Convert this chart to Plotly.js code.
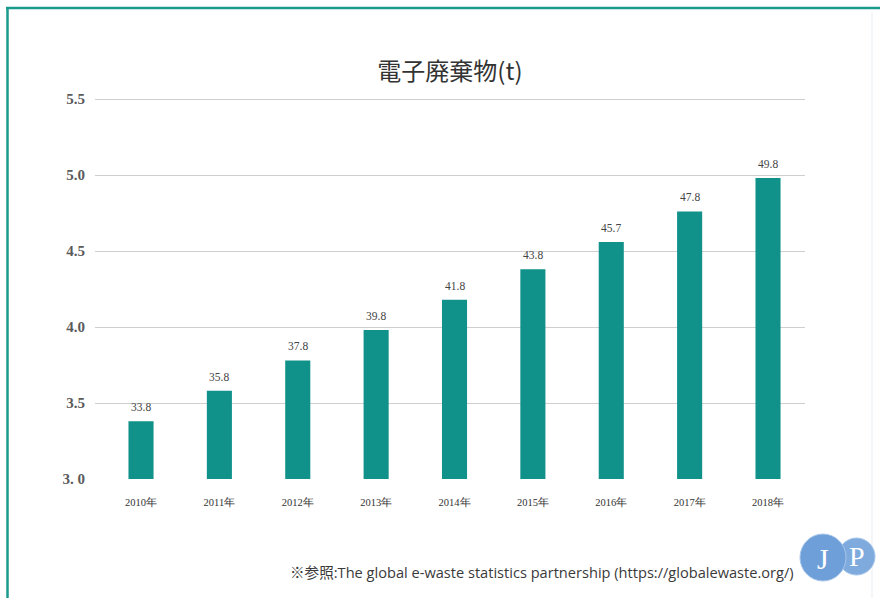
<!DOCTYPE html>
<html>
<head>
<meta charset="utf-8">
<script src="https://cdn.plot.ly/plotly-3.0.1.min.js"></script>
<style>
html,body{margin:0;padding:0;background:#fff;}
#chart{width:880px;height:598px;}
</style>
</head>
<body>
<div id="chart"></div>
<script>
// Data
var years = ['2010年','2011年','2012年','2013年','2014年','2015年','2016年','2017年','2018年'];
var barHeights = [3.38, 3.58, 3.78, 3.98, 4.18, 4.38, 4.56, 4.76, 4.98];
var barLabels = ['33.8','35.8','37.8','39.8','41.8','43.8','45.7','47.8','49.8'];
var yTickVals = [3.0, 3.5, 4.0, 4.5, 5.0, 5.5];
var yTickText = ['3. 0','3.5','4.0','4.5','5.0','5.5'];

var W = 880, H = 598;
var M = {l: 95, r: 75, t: 96, b: 119};
var PW = W - M.l - M.r, PH = H - M.t - M.b;
function px(x){ return (x - M.l) / PW; }
function py(y){ return (H - M.b - y) / PH; }

var teal = '#10918a';

var trace = {
  type: 'bar',
  x: years,
  y: barHeights,
  width: 0.32,
  marker: {color: teal},
  hoverinfo: 'skip'
};

var annotations = years.map(function(yr, i){
  return {
    x: yr, y: barHeights[i], xref: 'x', yref: 'y',
    text: barLabels[i], showarrow: false,
    yanchor: 'bottom', yshift: 6,
    font: {family: 'Liberation Serif, serif', size: 11.5, color: '#444'}
  };
});

annotations.push({
  xref: 'paper', yref: 'paper',
  x: px(796), y: py(572),
  xanchor: 'right', yanchor: 'middle',
  text: '※参照:The global e-waste statistics partnership (https://globalewaste.org/)',
  showarrow: false,
  font: {family: '"Open Sans", "Noto Sans CJK JP", sans-serif', size: 14.6, color: '#3a3a3a'}
});
annotations.push({
  xref: 'paper', yref: 'paper', x: px(823), y: py(558),
  xanchor: 'center', yanchor: 'middle', text: 'J', showarrow: false,
  font: {family: 'Liberation Serif, serif', size: 30, color: '#ffffff'}
});
annotations.push({
  xref: 'paper', yref: 'paper', x: px(857), y: py(556),
  xanchor: 'center', yanchor: 'middle', text: 'P', showarrow: false,
  font: {family: 'Liberation Serif, serif', size: 28, color: '#ffffff'}
});

var shapes = [
  // frame
  {type: 'line', xref: 'paper', yref: 'paper', x0: px(6), x1: px(880), y0: py(8), y1: py(8),
   line: {color: '#1a9a8e', width: 2.5}},
  {type: 'line', xref: 'paper', yref: 'paper', x0: px(7.5), x1: px(7.5), y0: py(7), y1: py(598),
   line: {color: '#1a9a8e', width: 2.5}},
  {type: 'line', xref: 'paper', yref: 'paper', x0: px(872), x1: px(872), y0: py(12), y1: py(598),
   line: {color: '#eef3f6', width: 1.5}},
  // JP logo circles
  {type: 'circle', xref: 'paper', yref: 'paper', x0: px(838), x1: px(875), y0: py(575), y1: py(538),
   fillcolor: '#7eaadd', line: {color: '#a6c6ec', width: 1}},
  {type: 'circle', xref: 'paper', yref: 'paper', x0: px(800), x1: px(846), y0: py(581), y1: py(534),
   fillcolor: '#6f9fd8', line: {color: '#a6c6ec', width: 1}}
];

var layout = {
  width: W, height: H,
  margin: M,
  paper_bgcolor: '#ffffff',
  plot_bgcolor: '#ffffff',
  showlegend: false,
  title: {
    text: '電子廃棄物(t)',
    x: 0.5, xref: 'paper', xanchor: 'center',
    y: 1 - 72/H, yref: 'container', yanchor: 'middle',
    font: {family: '"Noto Sans CJK JP", sans-serif', size: 24, color: '#333333'}
  },
  xaxis: {
    type: 'category',
    range: [-0.587, 8.472],
    showgrid: false, zeroline: false, showline: false,
    ticks: 'outside', ticklen: 13, tickcolor: 'rgba(0,0,0,0)',
    tickfont: {family: 'Liberation Serif, serif', size: 10.5, color: '#333'},
    fixedrange: true
  },
  yaxis: {
    range: [3, 5.5198],
    tickvals: yTickVals, ticktext: yTickText,
    showgrid: true, gridcolor: '#cfcfcf', gridwidth: 1,
    zeroline: false, showline: false,
    ticks: 'outside', ticklen: 6, tickcolor: 'rgba(0,0,0,0)',
    tickfont: {family: 'Liberation Serif, serif', size: 15, color: '#5a5a5a', weight: 'bold'},
    fixedrange: true
  },
  annotations: annotations,
  shapes: shapes
};

Plotly.newPlot('chart', [trace], layout, {displayModeBar: false, staticPlot: true});
</script>
</body>
</html>
